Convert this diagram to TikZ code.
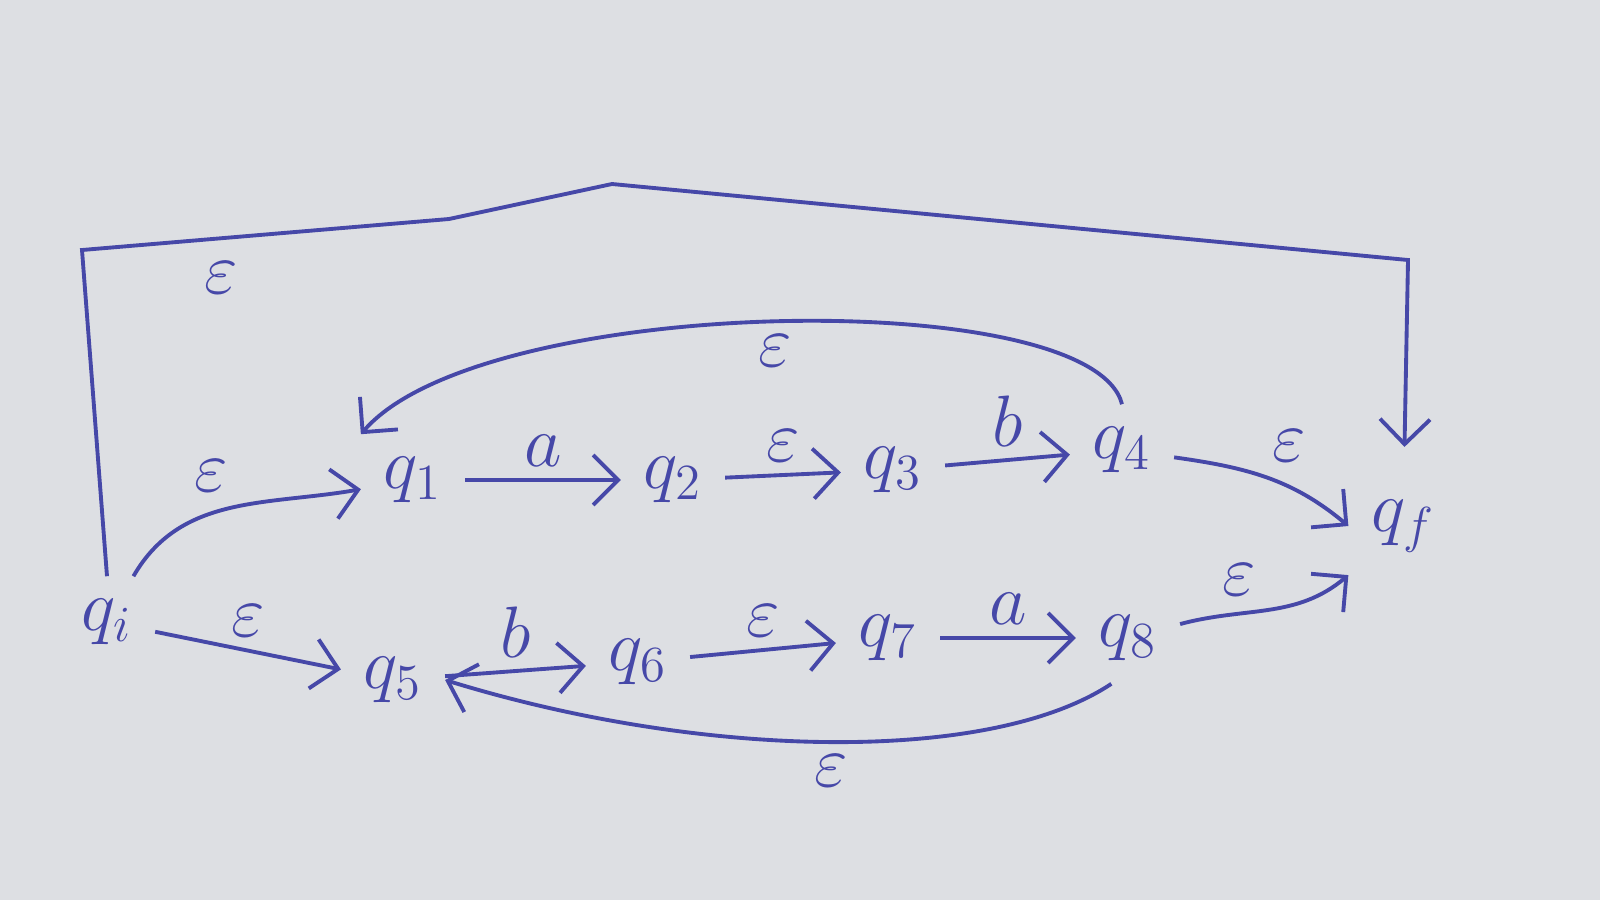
\documentclass[tikz,border=0pt]{standalone}
\usepackage{tikz}
\usetikzlibrary{arrows.meta}
\definecolor{ink}{RGB}{70,72,168}
\definecolor{paper}{RGB}{221,223,227}
\tikzset{
    state/.style={
           inner sep=6pt,
           text=ink,
           font=\fontsize{22}{26}\selectfont,
           },
}

\begin{document}
\begin{tikzpicture}[
  ->,>={Straight Barb[length=2.5mm,width=5mm]},
  draw=ink, line width=1.1pt,
  lbl/.style={text=ink,font=\fontsize{20}{24}\selectfont}]
\useasboundingbox (0,0) rectangle (16,-9);
\fill[paper,-] (0,0) rectangle (16,-9);

\node[state](qi) at (1.07,-6.22){$q_i$};
\node[state](q1) at (4.13,-4.80){$q_1$};
\node[state](q2) at (6.73,-4.80){$q_2$};
\node[state](q3) at (8.93,-4.70){$q_3$};
\node[state](q4) at (11.22,-4.50){$q_4$};
\node[state](qf) at (14.03,-5.26){$q_f$};
\node[state](q5) at (3.93,-6.80){$q_5$};
\node[state](q6) at (6.38,-6.62){$q_6$};
\node[state](q7) at (8.88,-6.38){$q_7$};
\node[state](q8) at (11.28,-6.38){$q_8$};

% corners of the long epsilon move
\coordinate (c1) at (0.82,-2.50);
\coordinate (c2) at (4.49,-2.19);
\coordinate (c3) at (6.12,-1.84);
\coordinate (c4) at (14.08,-2.60);

\path (qi) edge[out=60,in=190] node[lbl,above left,pos=0.55]{$\varepsilon$} (q1)
      (qi) edge node[lbl,above]{$\varepsilon$} (q5)
      (q1) edge node[lbl,above]{$a$} (q2)
      (q2) edge node[lbl,above]{$\varepsilon$} (q3)
      (q3) edge node[lbl,above]{$b$} (q4)
      (q4) edge[out=-8,in=140] node[lbl,above right,pos=0.45]{$\varepsilon$} (qf.west)
      (q5) edge node[lbl,above]{$b$} (q6)
      (q6) edge node[lbl,above]{$\varepsilon$} (q7)
      (q7) edge node[lbl,above]{$a$} (q8)
      (q8) edge[out=15,in=220] node[lbl,above left,pos=0.5]{$\varepsilon$} (qf.south west);

\draw (q4.north) .. controls +(-0.3,1.2) and +(1.2,1.4) .. node[lbl,below]{$\varepsilon$} (q1.north west);
\draw (q8.250) .. controls +(-1.2,-0.8) and +(2.6,-0.8) .. node[lbl,below]{$\varepsilon$} (q5.east);
\draw[shorten >=3mm] (qi.north) -- (c1) -- node[lbl,below=3pt,pos=0.38]{$\varepsilon$} (c2) -- (c3) -- (c4) -- (qf);
\end{tikzpicture}
\end{document}
